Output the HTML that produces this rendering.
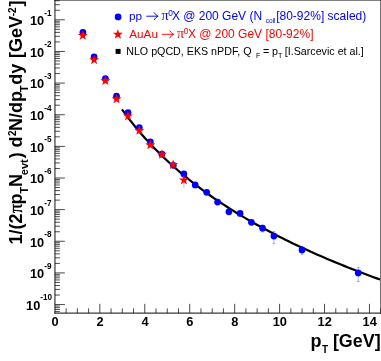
<!DOCTYPE html>
<html><head><meta charset="utf-8"><title>plot</title>
<style>
html,body{margin:0;padding:0;background:#fff;}
body{width:381px;height:361px;overflow:hidden;font-family:"Liberation Sans",sans-serif;}
svg{display:block;filter:blur(0.3px);}
text{font-family:"Liberation Sans",sans-serif;}
.b{font-weight:bold;}
</style></head><body>
<svg width="381" height="361" viewBox="0 0 381 361">
<rect x="0" y="0" width="381" height="361" fill="#fff"/>

<g stroke="#3a3a3a" stroke-width="1.2" fill="none" stroke-linecap="square">
<line x1="54.95" y1="0.5" x2="54.95" y2="313.05"/>
<line x1="54.95" y1="313.05" x2="380.8" y2="313.05"/>
<line x1="54.95" y1="0.33" x2="380.8" y2="0.33" stroke-width="0.66" stroke="#111"/>
<line x1="380.9" y1="0.5" x2="380.9" y2="313.05" stroke-width="1.2"/>
</g>
<g stroke="#1c1c1c" stroke-width="0.8" fill="none">
<line x1="54.85" y1="311.58" x2="59.85" y2="311.58"/>
<line x1="54.85" y1="309.46" x2="59.85" y2="309.46"/>
<line x1="54.85" y1="307.63" x2="59.85" y2="307.63"/>
<line x1="54.85" y1="306.01" x2="59.85" y2="306.01"/>
<line x1="54.85" y1="304.56" x2="64.85" y2="304.56"/>
<line x1="54.85" y1="295.04" x2="59.85" y2="295.04"/>
<line x1="54.85" y1="289.46" x2="59.85" y2="289.46"/>
<line x1="54.85" y1="285.51" x2="59.85" y2="285.51"/>
<line x1="54.85" y1="282.44" x2="59.85" y2="282.44"/>
<line x1="54.85" y1="279.94" x2="59.85" y2="279.94"/>
<line x1="54.85" y1="277.82" x2="59.85" y2="277.82"/>
<line x1="54.85" y1="275.99" x2="59.85" y2="275.99"/>
<line x1="54.85" y1="274.37" x2="59.85" y2="274.37"/>
<line x1="54.85" y1="272.92" x2="64.85" y2="272.92"/>
<line x1="54.85" y1="263.40" x2="59.85" y2="263.40"/>
<line x1="54.85" y1="257.82" x2="59.85" y2="257.82"/>
<line x1="54.85" y1="253.87" x2="59.85" y2="253.87"/>
<line x1="54.85" y1="250.80" x2="59.85" y2="250.80"/>
<line x1="54.85" y1="248.30" x2="59.85" y2="248.30"/>
<line x1="54.85" y1="246.18" x2="59.85" y2="246.18"/>
<line x1="54.85" y1="244.35" x2="59.85" y2="244.35"/>
<line x1="54.85" y1="242.73" x2="59.85" y2="242.73"/>
<line x1="54.85" y1="241.28" x2="64.85" y2="241.28"/>
<line x1="54.85" y1="231.76" x2="59.85" y2="231.76"/>
<line x1="54.85" y1="226.18" x2="59.85" y2="226.18"/>
<line x1="54.85" y1="222.23" x2="59.85" y2="222.23"/>
<line x1="54.85" y1="219.16" x2="59.85" y2="219.16"/>
<line x1="54.85" y1="216.66" x2="59.85" y2="216.66"/>
<line x1="54.85" y1="214.54" x2="59.85" y2="214.54"/>
<line x1="54.85" y1="212.71" x2="59.85" y2="212.71"/>
<line x1="54.85" y1="211.09" x2="59.85" y2="211.09"/>
<line x1="54.85" y1="209.64" x2="64.85" y2="209.64"/>
<line x1="54.85" y1="200.12" x2="59.85" y2="200.12"/>
<line x1="54.85" y1="194.54" x2="59.85" y2="194.54"/>
<line x1="54.85" y1="190.59" x2="59.85" y2="190.59"/>
<line x1="54.85" y1="187.52" x2="59.85" y2="187.52"/>
<line x1="54.85" y1="185.02" x2="59.85" y2="185.02"/>
<line x1="54.85" y1="182.90" x2="59.85" y2="182.90"/>
<line x1="54.85" y1="181.07" x2="59.85" y2="181.07"/>
<line x1="54.85" y1="179.45" x2="59.85" y2="179.45"/>
<line x1="54.85" y1="178.00" x2="64.85" y2="178.00"/>
<line x1="54.85" y1="168.48" x2="59.85" y2="168.48"/>
<line x1="54.85" y1="162.90" x2="59.85" y2="162.90"/>
<line x1="54.85" y1="158.95" x2="59.85" y2="158.95"/>
<line x1="54.85" y1="155.88" x2="59.85" y2="155.88"/>
<line x1="54.85" y1="153.38" x2="59.85" y2="153.38"/>
<line x1="54.85" y1="151.26" x2="59.85" y2="151.26"/>
<line x1="54.85" y1="149.43" x2="59.85" y2="149.43"/>
<line x1="54.85" y1="147.81" x2="59.85" y2="147.81"/>
<line x1="54.85" y1="146.36" x2="64.85" y2="146.36"/>
<line x1="54.85" y1="136.84" x2="59.85" y2="136.84"/>
<line x1="54.85" y1="131.26" x2="59.85" y2="131.26"/>
<line x1="54.85" y1="127.31" x2="59.85" y2="127.31"/>
<line x1="54.85" y1="124.24" x2="59.85" y2="124.24"/>
<line x1="54.85" y1="121.74" x2="59.85" y2="121.74"/>
<line x1="54.85" y1="119.62" x2="59.85" y2="119.62"/>
<line x1="54.85" y1="117.79" x2="59.85" y2="117.79"/>
<line x1="54.85" y1="116.17" x2="59.85" y2="116.17"/>
<line x1="54.85" y1="114.72" x2="64.85" y2="114.72"/>
<line x1="54.85" y1="105.20" x2="59.85" y2="105.20"/>
<line x1="54.85" y1="99.62" x2="59.85" y2="99.62"/>
<line x1="54.85" y1="95.67" x2="59.85" y2="95.67"/>
<line x1="54.85" y1="92.60" x2="59.85" y2="92.60"/>
<line x1="54.85" y1="90.10" x2="59.85" y2="90.10"/>
<line x1="54.85" y1="87.98" x2="59.85" y2="87.98"/>
<line x1="54.85" y1="86.15" x2="59.85" y2="86.15"/>
<line x1="54.85" y1="84.53" x2="59.85" y2="84.53"/>
<line x1="54.85" y1="83.08" x2="64.85" y2="83.08"/>
<line x1="54.85" y1="73.56" x2="59.85" y2="73.56"/>
<line x1="54.85" y1="67.98" x2="59.85" y2="67.98"/>
<line x1="54.85" y1="64.03" x2="59.85" y2="64.03"/>
<line x1="54.85" y1="60.96" x2="59.85" y2="60.96"/>
<line x1="54.85" y1="58.46" x2="59.85" y2="58.46"/>
<line x1="54.85" y1="56.34" x2="59.85" y2="56.34"/>
<line x1="54.85" y1="54.51" x2="59.85" y2="54.51"/>
<line x1="54.85" y1="52.89" x2="59.85" y2="52.89"/>
<line x1="54.85" y1="51.44" x2="64.85" y2="51.44"/>
<line x1="54.85" y1="41.92" x2="59.85" y2="41.92"/>
<line x1="54.85" y1="36.34" x2="59.85" y2="36.34"/>
<line x1="54.85" y1="32.39" x2="59.85" y2="32.39"/>
<line x1="54.85" y1="29.32" x2="59.85" y2="29.32"/>
<line x1="54.85" y1="26.82" x2="59.85" y2="26.82"/>
<line x1="54.85" y1="24.70" x2="59.85" y2="24.70"/>
<line x1="54.85" y1="22.87" x2="59.85" y2="22.87"/>
<line x1="54.85" y1="21.25" x2="59.85" y2="21.25"/>
<line x1="54.85" y1="19.80" x2="64.85" y2="19.80"/>
<line x1="54.85" y1="10.28" x2="59.85" y2="10.28"/>
<line x1="54.85" y1="4.70" x2="59.85" y2="4.70"/>
<line x1="54.85" y1="0.75" x2="59.85" y2="0.75"/>
<line x1="66.13" y1="313.05" x2="66.13" y2="308.35"/>
<line x1="77.37" y1="313.05" x2="77.37" y2="308.35"/>
<line x1="88.60" y1="313.05" x2="88.60" y2="308.35"/>
<line x1="99.84" y1="313.05" x2="99.84" y2="303.85"/>
<line x1="111.07" y1="313.05" x2="111.07" y2="308.35"/>
<line x1="122.31" y1="313.05" x2="122.31" y2="308.35"/>
<line x1="133.54" y1="313.05" x2="133.54" y2="308.35"/>
<line x1="144.78" y1="313.05" x2="144.78" y2="303.85"/>
<line x1="156.01" y1="313.05" x2="156.01" y2="308.35"/>
<line x1="167.25" y1="313.05" x2="167.25" y2="308.35"/>
<line x1="178.48" y1="313.05" x2="178.48" y2="308.35"/>
<line x1="189.72" y1="313.05" x2="189.72" y2="303.85"/>
<line x1="200.96" y1="313.05" x2="200.96" y2="308.35"/>
<line x1="212.19" y1="313.05" x2="212.19" y2="308.35"/>
<line x1="223.42" y1="313.05" x2="223.42" y2="308.35"/>
<line x1="234.66" y1="313.05" x2="234.66" y2="303.85"/>
<line x1="245.90" y1="313.05" x2="245.90" y2="308.35"/>
<line x1="257.13" y1="313.05" x2="257.13" y2="308.35"/>
<line x1="268.36" y1="313.05" x2="268.36" y2="308.35"/>
<line x1="279.60" y1="313.05" x2="279.60" y2="303.85"/>
<line x1="290.83" y1="313.05" x2="290.83" y2="308.35"/>
<line x1="302.07" y1="313.05" x2="302.07" y2="308.35"/>
<line x1="313.30" y1="313.05" x2="313.30" y2="308.35"/>
<line x1="324.54" y1="313.05" x2="324.54" y2="303.85"/>
<line x1="335.77" y1="313.05" x2="335.77" y2="308.35"/>
<line x1="347.01" y1="313.05" x2="347.01" y2="308.35"/>
<line x1="358.24" y1="313.05" x2="358.24" y2="308.35"/>
<line x1="369.48" y1="313.05" x2="369.48" y2="303.85"/>
<line x1="380.71" y1="313.05" x2="380.71" y2="308.35"/>
</g>
<g class="b" font-size="12.8" fill="#000">
<text x="44.21" y="25.20" text-anchor="end">10</text>
<text x="51.60" y="15.70" font-size="8.2" text-anchor="end">-1</text>
<text x="44.21" y="56.84" text-anchor="end">10</text>
<text x="51.60" y="47.34" font-size="8.2" text-anchor="end">-2</text>
<text x="44.21" y="88.48" text-anchor="end">10</text>
<text x="51.60" y="78.98" font-size="8.2" text-anchor="end">-3</text>
<text x="44.21" y="120.12" text-anchor="end">10</text>
<text x="51.60" y="110.62" font-size="8.2" text-anchor="end">-4</text>
<text x="44.21" y="151.76" text-anchor="end">10</text>
<text x="51.60" y="142.26" font-size="8.2" text-anchor="end">-5</text>
<text x="44.21" y="183.40" text-anchor="end">10</text>
<text x="51.60" y="173.90" font-size="8.2" text-anchor="end">-6</text>
<text x="44.21" y="215.04" text-anchor="end">10</text>
<text x="51.60" y="205.54" font-size="8.2" text-anchor="end">-7</text>
<text x="44.21" y="246.68" text-anchor="end">10</text>
<text x="51.60" y="237.18" font-size="8.2" text-anchor="end">-8</text>
<text x="44.21" y="278.32" text-anchor="end">10</text>
<text x="51.60" y="268.82" font-size="8.2" text-anchor="end">-9</text>
<text x="40.25" y="309.96" text-anchor="end">10</text>
<text x="52.20" y="300.46" font-size="8.2" text-anchor="end">-10</text>
<text x="55.10" y="326.4" text-anchor="middle">0</text>
<text x="100.04" y="326.4" text-anchor="middle">2</text>
<text x="144.98" y="326.4" text-anchor="middle">4</text>
<text x="189.92" y="326.4" text-anchor="middle">6</text>
<text x="234.86" y="326.4" text-anchor="middle">8</text>
<text x="279.80" y="326.4" text-anchor="middle">10</text>
<text x="324.74" y="326.4" text-anchor="middle">12</text>
<text x="369.68" y="326.4" text-anchor="middle">14</text>
</g>
<text class="b" x="310.6" y="346.8" font-size="18" fill="#000">p</text><text class="b" x="321.9" y="352.9" font-size="10" fill="#000">T</text><text class="b" x="332.9" y="346.8" font-size="17.9" fill="#000">[GeV]</text>
<g transform="translate(21.7,244.4) rotate(-90)" fill="#000">
<text class="b" x="0" y="0" font-size="18.0">1/(2</text>
<text x="31.3" y="0" font-size="18.0" stroke="#000" stroke-width="0.35" style="font-family:'Liberation Serif',serif">&#960;</text>
<text class="b" x="40.0" y="0" font-size="18.0">p</text>
<text class="b" x="51.0" y="6.0" font-size="11.0">T</text>
<text class="b" x="57.3" y="0" font-size="18.0">N</text>
<text class="b" x="69.2" y="6.0" font-size="11.0">evt</text>
<text class="b" x="86.2" y="0" font-size="18.0">)</text>
<text class="b" x="97.0" y="0" font-size="18.0">d</text>
<text class="b" x="108.5" y="-5.6" font-size="10">2</text>
<text class="b" x="113.4" y="0" font-size="18.0">N/dp</text>
<text class="b" x="152.4" y="6.0" font-size="11.0">T</text>
<text class="b" x="159.6" y="0" font-size="18.0">dy</text>
<text class="b" x="186.3" y="0" font-size="18.0">[GeV</text>
<text class="b" x="228.2" y="-5.6" font-size="10">-2</text>
<text class="b" x="237.8" y="0" font-size="18.0">]</text>
</g>
<path d="M122.00,109.37 L125.27,113.88 L128.53,118.23 L131.80,122.43 L135.07,126.50 L138.34,130.44 L141.60,134.26 L144.87,137.97 L148.14,141.57 L151.40,145.07 L154.67,148.47 L157.94,151.79 L161.21,155.01 L164.47,158.16 L167.74,161.23 L171.01,164.23 L174.27,167.15 L177.54,170.01 L180.81,172.81 L184.07,175.54 L187.34,178.22 L190.61,180.84 L193.88,183.40 L197.14,185.92 L200.41,188.38 L203.68,190.80 L206.94,193.17 L210.21,195.50 L213.48,197.78 L216.75,200.02 L220.01,202.23 L223.28,204.39 L226.55,206.52 L229.81,208.61 L233.08,210.67 L236.35,212.70 L239.62,214.69 L242.88,216.65 L246.15,218.59 L249.42,220.49 L252.68,222.36 L255.95,224.21 L259.22,226.03 L262.48,227.82 L265.75,229.59 L269.02,231.33 L272.29,233.05 L275.55,234.75 L278.82,236.42 L282.09,238.07 L285.35,239.70 L288.62,241.31 L291.89,242.90 L295.16,244.46 L298.42,246.01 L301.69,247.54 L304.96,249.05 L308.22,250.55 L311.49,252.02 L314.76,253.48 L318.03,254.92 L321.29,256.35 L324.56,257.76 L327.83,259.15 L331.09,260.53 L334.36,261.89 L337.63,263.24 L340.89,264.57 L344.16,265.89 L347.43,267.20 L350.70,268.49 L353.96,269.77 L357.23,271.04 L360.50,272.29 L363.76,273.53 L367.03,274.76 L370.30,275.98 L373.57,277.19 L376.83,278.38 L380.10,279.56" stroke="#000" stroke-width="2.2" fill="none" stroke-linejoin="round"/>
<path d="M262.60,225.20 L262.60,232.00 M261.30,225.20 L263.90,225.20 M261.30,232.00 L263.90,232.00" stroke="#0000ff" stroke-width="0.45" fill="none" opacity="0.75"/>
<path d="M273.90,231.60 L273.90,243.70 M272.60,231.60 L275.20,231.60 M272.60,243.70 L275.20,243.70" stroke="#0000ff" stroke-width="0.45" fill="none" opacity="0.75"/>
<path d="M302.00,246.70 L302.00,254.30 M300.70,246.70 L303.30,246.70 M300.70,254.30 L303.30,254.30" stroke="#0000ff" stroke-width="0.45" fill="none" opacity="0.75"/>
<path d="M358.20,267.40 L358.20,281.50 M356.90,267.40 L359.50,267.40 M356.90,281.50 L359.50,281.50" stroke="#0000ff" stroke-width="0.45" fill="none" opacity="0.75"/>
<circle cx="82.90" cy="32.30" r="3.35" fill="#0000ff"/>
<circle cx="94.10" cy="56.90" r="3.35" fill="#0000ff"/>
<circle cx="105.40" cy="78.60" r="3.35" fill="#0000ff"/>
<circle cx="116.50" cy="96.20" r="3.35" fill="#0000ff"/>
<circle cx="128.00" cy="112.70" r="3.35" fill="#0000ff"/>
<circle cx="139.30" cy="127.50" r="3.35" fill="#0000ff"/>
<circle cx="150.40" cy="141.90" r="3.35" fill="#0000ff"/>
<circle cx="161.90" cy="154.20" r="3.35" fill="#0000ff"/>
<circle cx="173.30" cy="165.30" r="3.35" fill="#0000ff"/>
<circle cx="183.90" cy="173.90" r="3.35" fill="#0000ff"/>
<circle cx="195.20" cy="184.90" r="3.35" fill="#0000ff"/>
<circle cx="206.70" cy="192.30" r="3.35" fill="#0000ff"/>
<circle cx="217.60" cy="202.10" r="3.35" fill="#0000ff"/>
<circle cx="228.90" cy="211.80" r="3.35" fill="#0000ff"/>
<circle cx="240.10" cy="213.40" r="3.35" fill="#0000ff"/>
<circle cx="251.40" cy="222.30" r="3.35" fill="#0000ff"/>
<circle cx="262.60" cy="228.20" r="3.35" fill="#0000ff"/>
<circle cx="273.90" cy="236.10" r="3.35" fill="#0000ff"/>
<circle cx="302.00" cy="249.90" r="3.35" fill="#0000ff"/>
<circle cx="358.20" cy="272.90" r="3.35" fill="#0000ff"/>
<path d="M183.90,175.70 L183.90,188.00" stroke="#ff0000" stroke-width="0.45" fill="none" opacity="0.7"/>
<polygon points="82.80,30.25 84.07,33.76 87.79,33.88 84.85,36.17 85.89,39.75 82.80,37.65 79.71,39.75 80.75,36.17 77.81,33.88 81.53,33.76" fill="#ff0000"/>
<polygon points="94.10,54.65 95.37,58.16 99.09,58.28 96.15,60.57 97.19,64.15 94.10,62.05 91.01,64.15 92.05,60.57 89.11,58.28 92.83,58.16" fill="#ff0000"/>
<polygon points="105.40,75.55 106.67,79.06 110.39,79.18 107.45,81.47 108.49,85.05 105.40,82.95 102.31,85.05 103.35,81.47 100.41,79.18 104.13,79.06" fill="#ff0000"/>
<polygon points="116.60,93.75 117.87,97.26 121.59,97.38 118.65,99.67 119.69,103.25 116.60,101.15 113.51,103.25 114.55,99.67 111.61,97.38 115.33,97.26" fill="#ff0000"/>
<polygon points="128.00,110.95 129.27,114.46 132.99,114.58 130.05,116.87 131.09,120.45 128.00,118.35 124.91,120.45 125.95,116.87 123.01,114.58 126.73,114.46" fill="#ff0000"/>
<polygon points="139.40,125.35 140.67,128.86 144.39,128.98 141.45,131.27 142.49,134.85 139.40,132.75 136.31,134.85 137.35,131.27 134.41,128.98 138.13,128.86" fill="#ff0000"/>
<polygon points="150.30,139.75 151.57,143.26 155.29,143.38 152.35,145.67 153.39,149.25 150.30,147.15 147.21,149.25 148.25,145.67 145.31,143.38 149.03,143.26" fill="#ff0000"/>
<polygon points="162.00,149.15 163.27,152.66 166.99,152.78 164.05,155.07 165.09,158.65 162.00,156.55 158.91,158.65 159.95,155.07 157.01,152.78 160.73,152.66" fill="#ff0000"/>
<polygon points="173.10,159.45 174.37,162.96 178.09,163.08 175.15,165.37 176.19,168.95 173.10,166.85 170.01,168.95 171.05,165.37 168.11,163.08 171.83,162.96" fill="#ff0000"/>
<polygon points="183.90,174.95 185.17,178.46 188.89,178.58 185.95,180.87 186.99,184.45 183.90,182.35 180.81,184.45 181.85,180.87 178.91,178.58 182.63,178.46" fill="#ff0000"/>
<circle cx="118.1" cy="16.9" r="3.35" fill="#0000ff"/>
<polygon points="117.90,29.15 119.17,32.66 122.89,32.78 119.95,35.07 120.99,38.65 117.90,36.55 114.81,38.65 115.85,35.07 112.91,32.78 116.63,32.66" fill="#ff0000"/>
<rect x="115.6" y="48.9" width="5" height="5" fill="#000"/>
<g fill="#0000ff" font-size="12.0">
<text x="129.0" y="19.9" font-size="11.8">pp</text>
<path d="M146.70,16.20 L157.90,16.20 M154.20,12.70 Q155.70,15.00 157.90,16.20 Q155.70,17.40 154.20,19.70" stroke="#0000ff" stroke-width="0.95" fill="none" stroke-linecap="round" stroke-linejoin="round"/>
<text x="161.5" y="19.9" font-size="14" style="font-family:'Liberation Serif',serif">&#960;</text>
<text x="168.2" y="16.299999999999997" font-size="8.4">0</text>
<text x="171.9" y="19.9">X @ 200 GeV (N</text>
<text x="265.7" y="22.9" font-size="6.6">coll</text>
<text x="276.2" y="19.9">[80-92%] scaled)</text>
</g>
<g fill="#ff0000" font-size="12.0">
<text x="129.3" y="38.0" font-size="11.7">AuAu</text>
<path d="M162.30,34.30 L173.50,34.30 M169.80,30.80 Q171.30,33.10 173.50,34.30 Q171.30,35.50 169.80,37.80" stroke="#ff0000" stroke-width="0.95" fill="none" stroke-linecap="round" stroke-linejoin="round"/>
<text x="177.1" y="38.0" font-size="14" style="font-family:'Liberation Serif',serif">&#960;</text>
<text x="183.8" y="34.4" font-size="8.4">0</text>
<text x="187.9" y="38.0">X @ 200 GeV [80-92%]</text>
</g>
<g fill="#000" font-size="10.7">
<text x="126.2" y="54.6">NLO pQCD, EKS nPDF, Q</text>
<text x="255.9" y="58.2" font-size="7.2">F</text>
<text x="262.9" y="54.6">= p</text>
<text x="278.0" y="58.2" font-size="7.2">T</text>
<text x="284.8" y="54.6">[I.Sarcevic et al.]</text>
</g>
</svg></body></html>
